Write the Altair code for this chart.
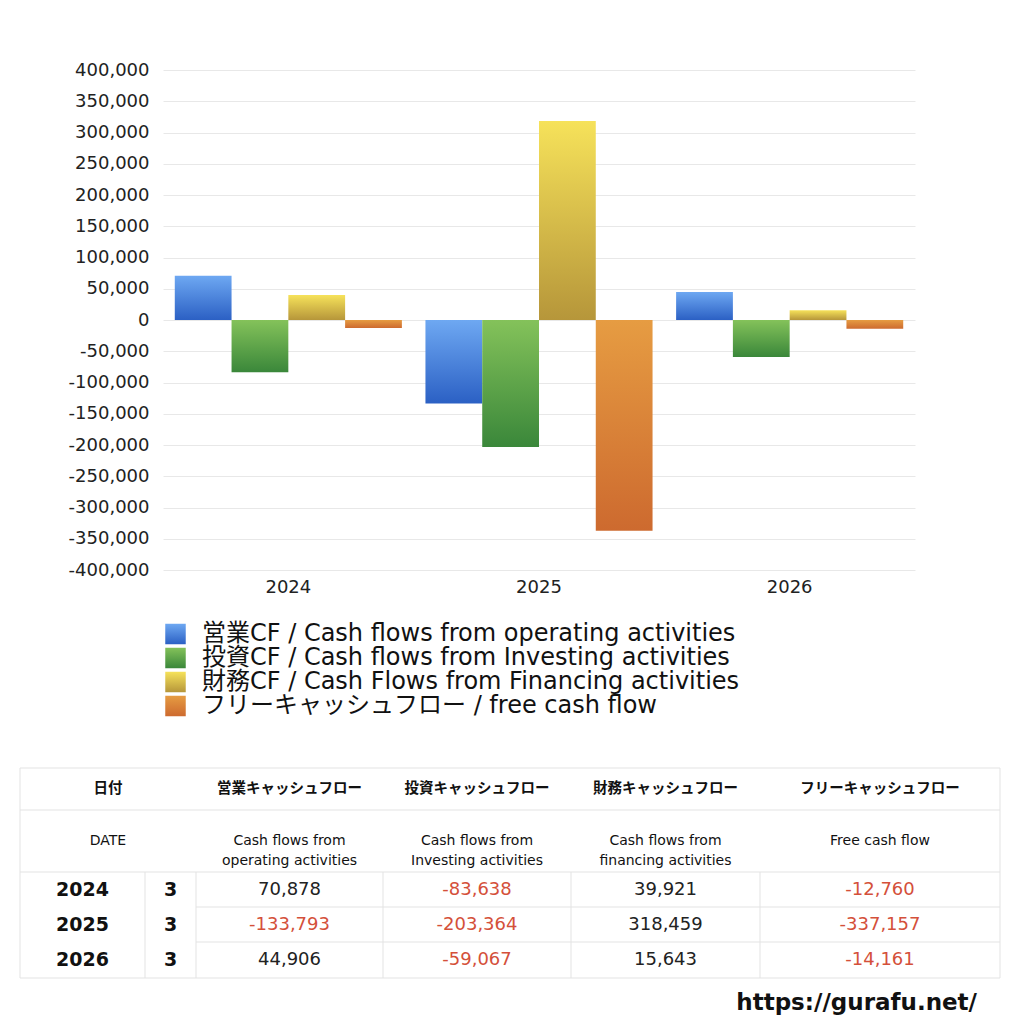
import altair as alt
import pandas as pd

# ---------------- data ----------------
years = ["2024", "2025", "2026"]
months = [3, 3, 3]
operating = [70878, -133793, 44906]
investing = [-83638, -203364, -59067]
financing = [39921, 318459, 15643]
free_cf = [-12760, -337157, -14161]

series_labels = [
    "営業CF / Cash flows from operating activities",
    "投資CF / Cash flows from Investing activities",
    "財務CF / Cash Flows from Financing activities",
    "フリーキャッシュフロー / free cash flow",
]
header_jp = ["日付", "営業キャッシュフロー", "投資キャッシュフロー", "財務キャッシュフロー", "フリーキャッシュフロー"]
header_en = ["DATE", "Cash flows from\noperating activities", "Cash flows from\nInvesting activities",
             "Cash flows from\nfinancing activities", "Free cash flow"]
y_ticks = list(range(-400000, 400001, 50000))
site_url = "https://gurafu.net/"

# ---------------- styles / layout ----------------
FONT = "DejaVu Sans, Noto Sans CJK JP, sans-serif"
JPFONT = "Noto Sans CJK JP, DejaVu Sans, sans-serif"
gradients = [("#6ea8f2", "#2b60c4"), ("#84c25a", "#3a873a"),
             ("#f6e25a", "#b6963a"), ("#e69c42", "#cd6a2f")]
RED = "#d4503a"
TXT = "#222222"
LINE = "#e3e3e3"
W, H = 752, 500
PAD = {"left": 155, "top": 62, "right": 101, "bottom": 446}

# table geometry (table units -> pixel range relative to plot origin)
col_edges = [0, 125, 176, 363, 551, 740, 980]
row_edges = [0, 42, 104, 139, 174, 210]
tx_scale = alt.Scale(domain=[0, 980], range=[-143, 837], nice=False, zero=False)
ty_scale = alt.Scale(domain=[0, 210], range=[698, 908], nice=False, zero=False)


def grad(i):
    top, bot = gradients[i]
    return alt.LinearGradient(gradient="linear",
                              stops=[alt.GradientStop(color=top, offset=0),
                                     alt.GradientStop(color=bot, offset=1)],
                              x1=0, x2=0, y1=0, y2=1)


# ---------------- bars ----------------
all_vals = [operating, investing, financing, free_cf]
long = pd.DataFrame([{"year": y, "series": s, "value": v}
                     for s, vals in zip(series_labels, all_vals)
                     for y, v in zip(years, vals)])

x_enc = alt.X("year:N", scale=alt.Scale(domain=years, paddingInner=0.094, paddingOuter=0.047),
              axis=alt.Axis(title=None, labelAngle=0, domain=False, ticks=False, labelPadding=8,
                            labelFontSize=18, labelColor=TXT, labelFont=FONT, grid=False))
y_enc = alt.Y("value:Q", scale=alt.Scale(domain=[-400000, 400000], nice=False, zero=False),
              axis=alt.Axis(title=None, values=y_ticks, domain=False, ticks=False,
                            labelExpr="replace(format(datum.value, ',d'), '\u2212', '-')",
                            labelPadding=14, labelFontSize=18, labelColor=TXT, labelFont=FONT,
                            gridColor="#e8e8e8", gridWidth=1))
xo_enc = alt.XOffset("series:N", scale=alt.Scale(domain=series_labels, paddingInner=0, paddingOuter=0))

bar_layers = []
for i, s in enumerate(series_labels):
    bar_layers.append(
        alt.Chart(long).transform_filter(alt.datum.series == s)
        .mark_bar(color=grad(i), opacity=1)
        .encode(x=x_enc, xOffset=xo_enc, y=y_enc)
    )
bars = alt.layer(*bar_layers)

# ---------------- legend ----------------
leg_df = pd.DataFrame({"series": series_labels})
leg_y = alt.Y("series:N", scale=alt.Scale(type="point", domain=series_labels, range=[564, 636], padding=0),
              axis=None)
leg_layers = []
for i, s in enumerate(series_labels):
    leg_layers.append(
        alt.Chart(leg_df).transform_filter(alt.datum.series == s)
        .mark_square(size=420, color=grad(i), opacity=1, filled=True)
        .encode(x=alt.value(12.5), y=leg_y)
    )
leg_text = alt.Chart(leg_df).mark_text(align="left", baseline="middle", fontSize=24, font=FONT,
                                       color="#111111").encode(x=alt.value(39), y=leg_y, text="series:N")
legend = alt.layer(*leg_layers, leg_text)

# ---------------- table ----------------
col_c = [(col_edges[k] + col_edges[k + 1]) / 2 for k in range(len(col_edges) - 1)]
row_c = [(row_edges[k] + row_edges[k + 1]) / 2 for k in range(len(row_edges) - 1)]
head_x = [(col_edges[0] + col_edges[2]) / 2] + col_c[2:]

rules = []
for yv in [row_edges[0], row_edges[1], row_edges[2], row_edges[5]]:
    rules.append({"x": col_edges[0], "x2": col_edges[6], "y": yv, "y2": yv})
for yv in [row_edges[3], row_edges[4]]:
    rules.append({"x": col_edges[2], "x2": col_edges[6], "y": yv, "y2": yv})
for xv in [col_edges[0], col_edges[6]]:
    rules.append({"x": xv, "x2": xv, "y": row_edges[0], "y2": row_edges[5]})
for xv in col_edges[1:6]:
    rules.append({"x": xv, "x2": xv, "y": row_edges[2], "y2": row_edges[5]})
rules_df = pd.DataFrame(rules)

tX = alt.X("x:Q", scale=tx_scale, axis=None)
tY = alt.Y("y:Q", scale=ty_scale, axis=None)

rule_layer = alt.Chart(rules_df).mark_rule(color=LINE, strokeWidth=1).encode(
    x=tX, x2="x2:Q", y=tY, y2="y2:Q")

h1_df = pd.DataFrame({"x": head_x, "y": [row_c[0]] * 5, "t": header_jp})
h2_df = pd.DataFrame({"x": head_x, "y": [row_c[1]] * 5, "t": header_en})
yr_df = pd.DataFrame({"x": [col_c[0]] * 3, "y": row_c[2:], "t": years})
mo_df = pd.DataFrame({"x": [col_c[1]] * 3, "y": row_c[2:], "t": [str(m) for m in months]})
val_rows = []
for k, vals in enumerate(all_vals):
    for r, v in enumerate(vals):
        val_rows.append({"x": col_c[2 + k], "y": row_c[2 + r], "t": f"{v:,}", "v": v})
val_df = pd.DataFrame(val_rows)

h1 = alt.Chart(h1_df).mark_text(fontSize=14.5, fontWeight="bold", font=JPFONT, color="#111111",
                                baseline="middle").encode(x=tX, y=tY, text="t:N")
h2 = alt.Chart(h2_df).mark_text(fontSize=14, fontWeight="normal", font=FONT, color="#111111",
                                baseline="middle", lineBreak="\n", lineHeight=20).encode(x=tX, y=tY, text="t:N")
yr = alt.Chart(yr_df).mark_text(fontSize=19, fontWeight="bold", font=FONT, color="#111111",
                                baseline="middle").encode(x=tX, y=tY, text="t:N")
mo = alt.Chart(mo_df).mark_text(fontSize=19, fontWeight="bold", font=FONT, color="#111111",
                                baseline="middle").encode(x=tX, y=tY, text="t:N")
vals_txt = alt.Chart(val_df).mark_text(fontSize=18, font=FONT, baseline="middle").encode(
    x=tX, y=tY, text="t:N",
    color=alt.condition(alt.datum.v < 0, alt.value(RED), alt.value(TXT)))

url = alt.Chart(pd.DataFrame({"t": [site_url]})).mark_text(
    align="right", baseline="middle", fontSize=23, fontWeight="bold", font=FONT, color="#111111"
).encode(x=alt.value(814), y=alt.value(933), text="t:N")

table = alt.layer(rule_layer, h1, h2, yr, mo, vals_txt, url)

chart = (
    alt.layer(bars, legend, table)
    .resolve_scale(x="independent", y="independent")
    .properties(width=W, height=H, autosize=alt.AutoSizeParams(type="none"), padding=PAD)
    .configure_view(stroke=None)
)

chart.save("out.html", embed_options={"renderer": "svg", "actions": False})
